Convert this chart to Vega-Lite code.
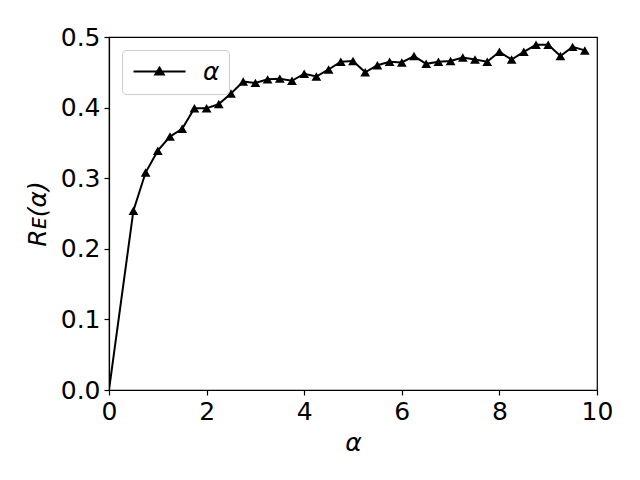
{
  "$schema": "https://vega.github.io/schema/vega-lite/v6.json",
  "autosize": "none",
  "width": 488,
  "height": 353,
  "padding": {"left": 109, "top": 37, "right": 43, "bottom": 90},
  "background": "white",
  "config": {
    "font": "DejaVu Sans",
    "view": {"stroke": "black", "strokeWidth": 1.2},
    "axis": {
      "grid": false,
      "domainColor": "black",
      "domainWidth": 1.2,
      "tickColor": "black",
      "tickSize": 5,
      "tickWidth": 1.2,
      "labelColor": "black",
      "labelFont": "DejaVu Sans",
      "labelFontSize": 25,
      "labelPadding": 4,
      "labelFlush": false,
      "labelOverlap": false,
      "titleFont": "DejaVu Sans",
      "titleFontSize": 25,
      "titleFontWeight": "normal",
      "titleFontStyle": "italic",
      "titleColor": "black"
    },
    "legend": {
      "orient": "top-left",
      "offset": 13,
      "fillColor": "white",
      "strokeColor": "#cccccc",
      "cornerRadius": 4,
      "padding": 9,
      "labelFont": "DejaVu Sans",
      "labelFontStyle": "italic",
      "labelFontSize": 25,
      "labelColor": "black",
      "labelOffset": 47,
      "symbolType": "M-1,0H4.2M1.18,0.3L1.6,-0.38L2.02,0.3Z",
      "symbolSize": 400,
      "symbolStrokeWidth": 2,
      "symbolStrokeColor": "black",
      "symbolFillColor": "black"
    }
  },
  "data": {
    "values": [
      {"a": 0, "r": 0, "s": "α"},
      {"a": 0.5, "r": 0.254, "s": "α"},
      {"a": 0.75, "r": 0.308, "s": "α"},
      {"a": 1.0, "r": 0.339, "s": "α"},
      {"a": 1.25, "r": 0.359, "s": "α"},
      {"a": 1.5, "r": 0.370, "s": "α"},
      {"a": 1.75, "r": 0.399, "s": "α"},
      {"a": 2.0, "r": 0.399, "s": "α"},
      {"a": 2.25, "r": 0.405, "s": "α"},
      {"a": 2.5, "r": 0.420, "s": "α"},
      {"a": 2.75, "r": 0.437, "s": "α"},
      {"a": 3.0, "r": 0.435, "s": "α"},
      {"a": 3.25, "r": 0.440, "s": "α"},
      {"a": 3.5, "r": 0.441, "s": "α"},
      {"a": 3.75, "r": 0.438, "s": "α"},
      {"a": 4.0, "r": 0.448, "s": "α"},
      {"a": 4.25, "r": 0.444, "s": "α"},
      {"a": 4.5, "r": 0.454, "s": "α"},
      {"a": 4.75, "r": 0.465, "s": "α"},
      {"a": 5.0, "r": 0.466, "s": "α"},
      {"a": 5.25, "r": 0.450, "s": "α"},
      {"a": 5.5, "r": 0.460, "s": "α"},
      {"a": 5.75, "r": 0.465, "s": "α"},
      {"a": 6.0, "r": 0.464, "s": "α"},
      {"a": 6.25, "r": 0.473, "s": "α"},
      {"a": 6.5, "r": 0.462, "s": "α"},
      {"a": 6.75, "r": 0.465, "s": "α"},
      {"a": 7.0, "r": 0.466, "s": "α"},
      {"a": 7.25, "r": 0.471, "s": "α"},
      {"a": 7.5, "r": 0.468, "s": "α"},
      {"a": 7.75, "r": 0.465, "s": "α"},
      {"a": 8.0, "r": 0.479, "s": "α"},
      {"a": 8.25, "r": 0.468, "s": "α"},
      {"a": 8.5, "r": 0.479, "s": "α"},
      {"a": 8.75, "r": 0.489, "s": "α"},
      {"a": 9.0, "r": 0.489, "s": "α"},
      {"a": 9.25, "r": 0.473, "s": "α"},
      {"a": 9.5, "r": 0.486, "s": "α"},
      {"a": 9.75, "r": 0.481, "s": "α"}
    ]
  },
  "encoding": {
    "x": {
      "field": "a",
      "type": "quantitative",
      "scale": {"domain": [0, 10], "nice": false, "zero": false},
      "axis": {"values": [0, 2, 4, 6, 8, 10], "title": "α", "titlePadding": 6}
    },
    "y": {
      "field": "r",
      "type": "quantitative",
      "scale": {"domain": [0, 0.5], "nice": false},
      "axis": {"values": [0, 0.1, 0.2, 0.3, 0.4, 0.5], "format": ".1f", "title": "Rᴇ(α)", "titlePadding": 10}
    }
  },
  "layer": [
    {
      "mark": {"type": "line", "strokeWidth": 2, "clip": true},
      "encoding": {
        "color": {
          "field": "s",
          "type": "nominal",
          "scale": {"range": ["black"]},
          "legend": {"title": null}
        }
      }
    },
    {
      "transform": [{"filter": "datum.a > 0"}],
      "mark": {"type": "point", "shape": "triangle-up", "filled": true, "opacity": 1, "size": 95, "color": "black"}
    }
  ]
}
